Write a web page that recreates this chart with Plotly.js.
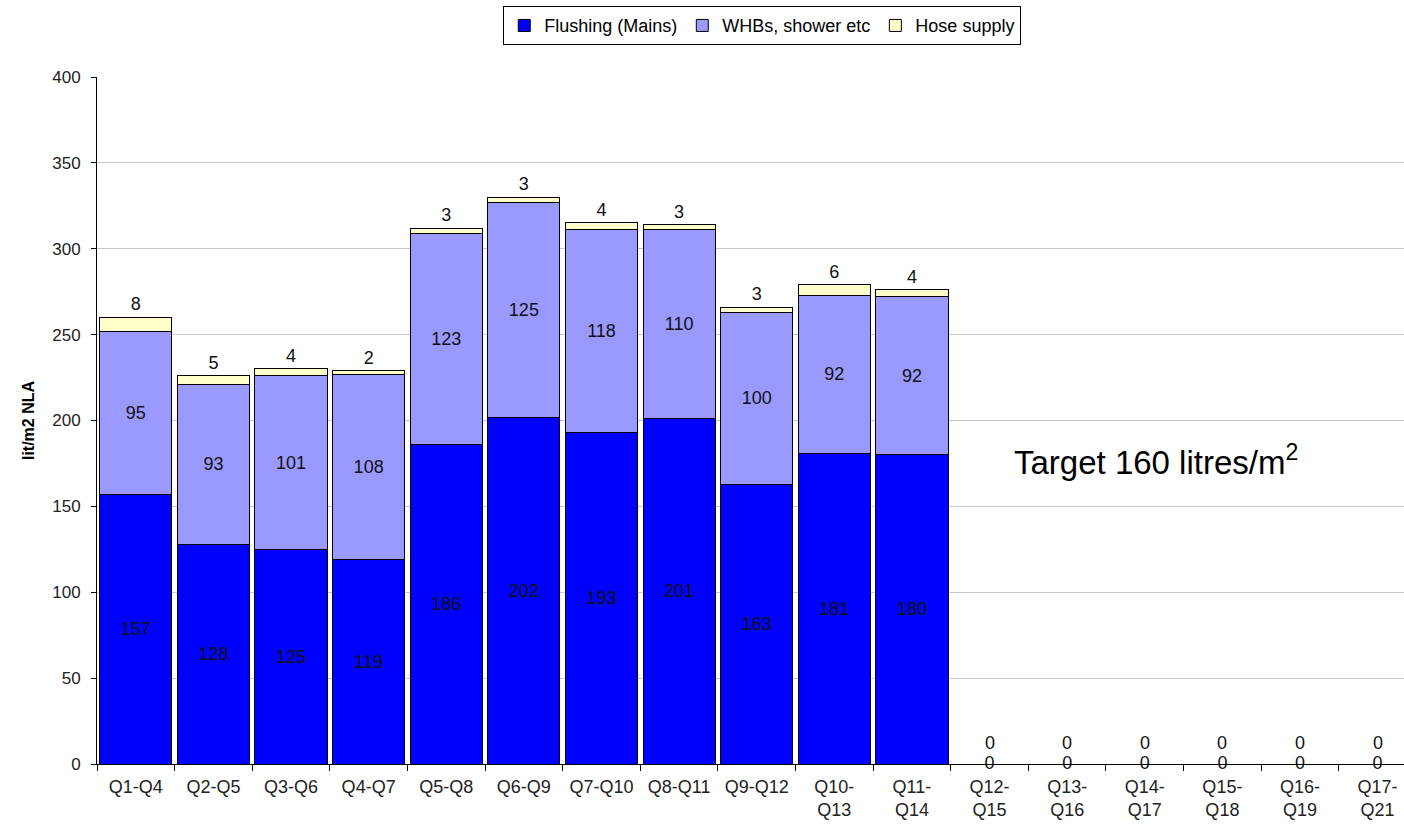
<!DOCTYPE html>
<html>
<head>
<meta charset="utf-8">
<script src="https://cdn.plot.ly/plotly-3.0.1.min.js"></script>
<style>html,body{margin:0;padding:0;background:#fff;overflow:hidden;}</style>
</head>
<body>
<div id="chart" style="width:1404px;height:826px;"></div>
<script>
const categories = ["Q1-Q4","Q2-Q5","Q3-Q6","Q4-Q7","Q5-Q8","Q6-Q9","Q7-Q10","Q8-Q11","Q9-Q12",
  "Q10-<br>Q13","Q11-<br>Q14","Q12-<br>Q15","Q13-<br>Q16","Q14-<br>Q17","Q15-<br>Q18","Q16-<br>Q19","Q17-<br>Q21"];
const flushing = [157,128,125,119,186,202,193,201,163,181,180,0,0,0,0,0,0];
const whbs     = [95,93,101,108,123,125,118,110,100,92,92,0,0,0,0,0,0];
const hose     = [8,5,4,2,3,3,4,3,3,6,4,0,0,0,0,0,0];
const yTicks = [0,50,100,150,200,250,300,350,400];
const targetText = "Target 160 litres/m<sup>2</sup>";

const font = "Arial, 'Liberation Sans', sans-serif";
const lbl = {family: font, size: 18, color: "#111"};
const xIdx = categories.map((c,i)=>i);
const isEmpty = xIdx.map(i => flushing[i]+whbs[i]+hose[i] === 0);
const zeroIdx = xIdx.filter(i => isEmpty[i]);

const traces = [
  {type:"bar", name:"Flushing (Mains)", x:xIdx, y:flushing,
   marker:{color:"#0000FF", line:{color:"#000", width:1}},
   text: flushing.map(v => v ? String(v) : ""), textposition:"inside", insidetextanchor:"middle",
   textfont: lbl, hoverinfo:"y+name"},
  {type:"bar", name:"WHBs, shower etc", x:xIdx, y:whbs,
   marker:{color:"#9999FF", line:{color:"#000", width:1}},
   text: whbs.map(v => v ? String(v) : ""), textposition:"inside", insidetextanchor:"middle",
   textfont: lbl, hoverinfo:"y+name"},
  {type:"bar", name:"Hose supply", x:xIdx, y:hose,
   marker:{color:"#FFFFCC", line:{color:"#000", width:1}},
   text: hose.map((v,i) => isEmpty[i] ? "" : String(v)), textposition:"outside", cliponaxis:false,
   textfont: lbl, hoverinfo:"y+name"},
  {type:"scatter", mode:"text", x:zeroIdx, y:zeroIdx.map(i=>flushing[i]),
   text: zeroIdx.map(i=>String(flushing[i])), textposition:"middle center",
   textfont: lbl, showlegend:false, hoverinfo:"skip", cliponaxis:false}
];

const zeroAnn = zeroIdx.map(i => ({
  x:i, y:flushing[i]+whbs[i]+hose[i], xref:"x", yref:"y", yshift:21,
  text:String(hose[i]), showarrow:false, font:lbl, xanchor:"center", yanchor:"middle"
}));

const layout = {
  width:1404, height:826,
  margin:{l:97, r:0, t:77, b:62},
  paper_bgcolor:"#fff", plot_bgcolor:"#fff",
  barmode:"stack", bargap:0.07,
  font:{family:font, size:17, color:"#222"},
  showlegend:true,
  legend:{orientation:"h", x:0.509, xanchor:"center", y:1.103, yanchor:"top",
          bordercolor:"#000", borderwidth:1, bgcolor:"#fff",
          font:{family:font, size:18, color:"#000"}, traceorder:"normal",
          itemwidth:30},
  xaxis:{tickmode:"array", tickvals:xIdx, ticktext:categories,
         range:[-0.5, 16.34], showline:true, linecolor:"#000", linewidth:1,
         ticks:"", showgrid:false, zeroline:false, ticklabelstandoff:6,
         minor:{tickvals:xIdx.map(i=>i-0.5), ticks:"outside", ticklen:6, tickcolor:"#000", showgrid:false},
         tickfont:{family:font, size:18, color:"#222"}},
  yaxis:{range:[0,400], tickvals:yTicks, showline:true, linecolor:"#000", linewidth:1,
         ticks:"outside", ticklen:5, tickcolor:"#000", ticklabelstandoff:7,
         showgrid:true, gridcolor:"#c8c8c8", zeroline:false,
         tickfont:{family:font, size:17, color:"#222"},
         title:{text:"<b>lit/m2 NLA</b>", font:{family:font, size:16, color:"#000"}, standoff:13}},
  annotations:[
    {xref:"paper", yref:"y", x:0.81, y:177, xanchor:"center", yanchor:"middle",
     text:targetText, showarrow:false,
     font:{family:font, size:33, color:"#000"}}
  ].concat(zeroAnn)
};

Plotly.newPlot("chart", traces, layout, {displayModeBar:false, staticPlot:true});
</script>
</body>
</html>
